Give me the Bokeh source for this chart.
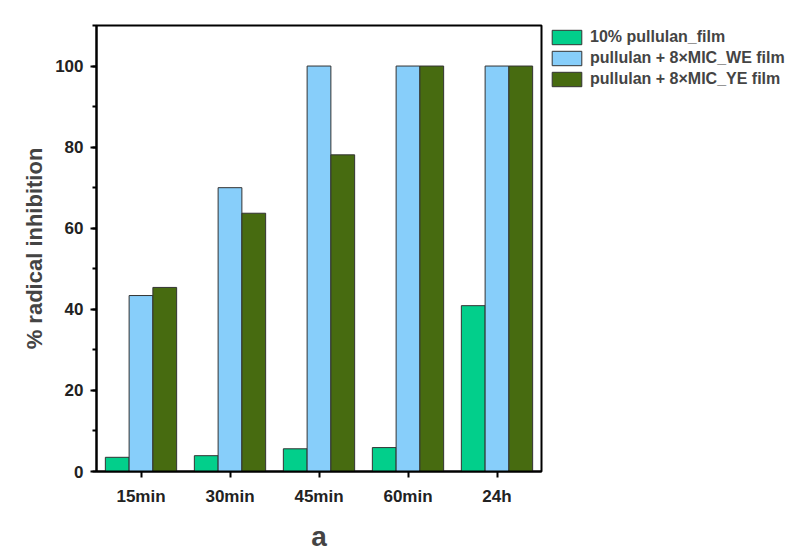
from bokeh.plotting import figure
from bokeh.models import ColumnDataSource, FactorRange, Range1d, Legend, LegendItem, SingleIntervalTicker, Title
from bokeh.transform import dodge
from bokeh.embed import file_html
from bokeh.resources import INLINE

categories = ["15min", "30min", "45min", "60min", "24h"]
pullulan_film = [3.5, 3.9, 5.6, 5.9, 40.9]
we_film = [43.4, 70.0, 100.0, 100.0, 100.0]
ye_film = [45.4, 63.7, 78.1, 100.0, 100.0]
series_names = ["10% pullulan_film", "pullulan + 8×MIC_WE film", "pullulan + 8×MIC_YE film"]
colors = ["#02CF8B", "#87CEFA", "#476B10"]

src = ColumnDataSource(dict(cat=categories, a=pullulan_film, b=we_film, c=ye_film))

FONT = "Liberation Sans"

p = figure(x_range=FactorRange(*categories, range_padding=0), y_range=Range1d(0, 110),
           frame_width=445, frame_height=446, output_backend="svg", toolbar_location=None,
           min_border_left=96, min_border_top=25, min_border_right=250, min_border_bottom=74)

bw = 0.267
renderers = []
for off, col, colr in zip([-bw, 0, bw], ["a", "b", "c"], colors):
    r = p.vbar(x=dodge("cat", off, range=p.x_range), top=col, width=bw, source=src,
               fill_color=colr, line_color="#333333", line_width=1)
    renderers.append(r)

p.xgrid.visible = False
p.ygrid.visible = False
p.outline_line_color = "black"
p.outline_line_width = 2

p.yaxis.ticker = SingleIntervalTicker(interval=20, num_minor_ticks=2)
p.yaxis.axis_label = "% radical inhibition"
p.yaxis.axis_label_text_font = FONT
p.yaxis.axis_label_text_font_style = "bold"
p.yaxis.axis_label_text_font_size = "22px"
p.yaxis.axis_label_standoff = 5

for ax in [p.xaxis[0], p.yaxis[0]]:
    ax.axis_line_width = 2
    ax.axis_line_color = "black"
    ax.major_tick_line_width = 2
    ax.minor_tick_line_width = 2
    ax.major_tick_in = 0
    ax.major_tick_out = 6
    ax.minor_tick_in = 0
    ax.minor_tick_out = 4
    ax.major_label_text_font = FONT
    ax.major_label_text_font_style = "bold"
    ax.major_label_text_font_size = "17px"
    ax.major_label_text_color = "#222222"
p.xaxis.major_label_standoff = 9
p.yaxis.major_label_standoff = 7

legend = Legend(items=[LegendItem(label=n, renderers=[r]) for n, r in zip(series_names, renderers)],
                location=(7, 383), margin=0, padding=0, spacing=3,
                glyph_width=37, glyph_height=18, label_height=18, label_standoff=5,
                label_text_font=FONT, label_text_font_style="bold", label_text_font_size="16px",
                border_line_color=None, background_fill_alpha=0)
p.add_layout(legend, "right")

p.add_layout(Title(text="a", align="center", text_font=FONT, text_font_style="bold",
                   text_font_size="28px", standoff=20), "below")

open("out.html", "w").write(file_html(p, INLINE))
